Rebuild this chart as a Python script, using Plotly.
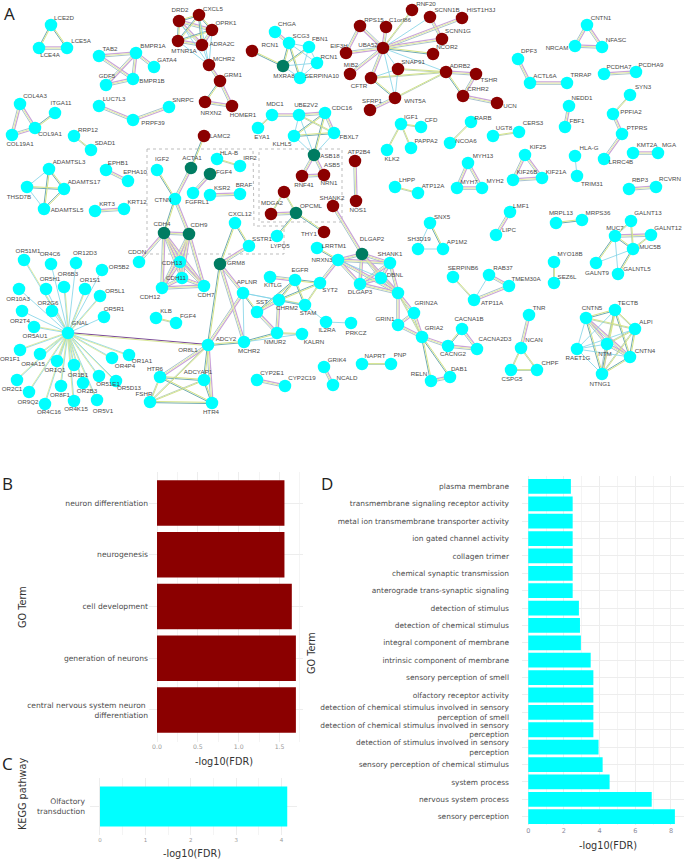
import plotly.graph_objects as go

W, H = 685, 859

# ---- Network nodes: (key, x, y, label x, label y); "|" separates a repeated name's key suffix
red_nodes = [
    ("DRD2",179,21,180,10),("CXCL5",199,15,213,9),("OPRK1",212,30,226,23),("MTNR1A",178,41,184,51),
    ("ADRA2C",202,45,222,44),("MCHR2",209,65,224,59),("GRM1",220,81,233,75),("NRXN2",205,102,211,113),
    ("HOMER1",232,106,243,115),("RCN1|r",252,51,270,45),("EIF3H",346,53,339,46),("RPS15",360,26,374,20),
    ("C1orf86",386,27,400,20),("UBA52",383,48,368,45),("RNF20",412,10,426,4),("SCNN1B",430,17,447,10),
    ("HIST1H3J",462,18,481,10),("SCNN1G",442,39,458,31),("NCOR2",433,54,447,47),("MIB2",350,74,351,65),
    ("SNAP91",398,69,413,62),("ADRB2",446,72,460,66),("TSHR",476,74,489,80),("CFTR",371,78,359,86),
    ("CRHR2",463,96,478,89),("UCN",497,103,510,106),("WNT5A",395,98,415,101),("SFRP1",370,110,372,101),
    ("LAMC2",204,136,220,136),("RNF41",302,176,304,185),("ASB5",324,175,332,165),("MDGA2",271,214,272,203),
    ("UNLABELLED",284,192,None,None),("SHANK2",333,206,332,198),("THY1",324,232,309,234),
    ("ATP2B4",355,161,359,152),("NOS1",356,201,358,210),
]
green_nodes = [
    ("MXRA8",283,66,284,76),("ACTA1",191,168,192,158),("FGF4|g",210,174,224,172),("CDH4",164,233,162,224),
    ("CDH9",189,234,199,225),("GRM8",220,264,236,263),("ASB18",314,155,330,156),("OPCML",296,213,311,206),
    ("DLGAP2",362,254,372,239),
]
cyan_top_nodes = [
    ("LCE2D",51,25,64,18),("LCE4A",39,48,50,55),("LCE5A",67,48,81,41),("TAB2",99,56,110,49),
    ("BMPR1A",136,53,153,46),("GATA4",154,67,167,60),("GDF5",106,85,107,76),("BMPR1B",133,79,152,81),
    ("CHGA",275,32,287,24),("SCG3",289,43,301,36),("FBN1",309,47,320,39),("RCN1|c",317,63,329,57),
    ("SERPINA10",300,78,322,76),("COL4A3",20,104,35,96),("ITGA11",55,113,61,103),("COL9A1",35,128,50,134),
    ("COL19A1",12,135,20,144),("LUC7L3",99,106,114,99),("SNRPC",169,107,183,100),("PRPF39",133,120,153,123),
    ("RRP12",74,136,88,130),("SDAD1",91,150,105,143),("ADAMTSL3",49,169,69,162),("THSD7B",27,187,19,197),
    ("ADAMTS17",64,189,84,182),("ADAMTSL5",44,209,67,210),("EPHB1",106,170,118,163),("EPHA10",128,181,135,172),
    ("KRT3",95,211,107,204),("KRT12",124,209,137,202),("IGF2",157,170,162,159),("HLA-B",217,159,229,153),
    ("IRF2",240,166,250,158),("FGFRL1",193,193,197,202),("KSR2",210,195,222,188),("BRAF",240,194,244,185),
    ("CTNN",175,199,163,200),("MDC1",272,115,275,104),("EYA1",258,128,262,137),("UBE2V2",299,115,306,105),
    ("CDC16",325,113,342,108),("KLHL5",294,136,282,144),("FBXL7",334,133,349,137),("LYPD5",277,236,280,246),
    ("CXCL12",235,223,240,214),("SSTR1",249,246,262,239),("CDH13",180,262,172,263),("CDH11",182,278,176,278),
    ("CDH12",162,288,150,297),("CDH7",204,286,206,295),("CDON",139,262,137,252),
]
cyan_or_nodes = [
    ("OR51M1",24,260,28,251),("OR4C6",51,264,50,254),("OR12D3",76,263,85,253),("OR6B3",64,287,68,274),
    ("OR5H1",46,289,50,279),("OR5B2",102,270,119,267),("OR1S1",85,289,90,280),("OR10A3",19,289,18,299),
    ("OR2G6",52,311,48,303),("OR5L1",100,296,115,291),("OR5R1",104,317,114,309),("OR2T4",22,311,20,321),
    ("OR5AU1",34,327,35,336),("GNAL",68,333,80,323),("OR1F1",20,350,10,359),("OR4A15",40,354,33,364),
    ("OR1Q1",57,361,55,370),("OR1B1",74,365,78,375),("OR4P4",112,358,125,366),("OR1A1",129,355,142,361),
    ("OR2C1",17,380,12,389),("OR9Q2",29,392,28,402),("OR8F1",61,386,60,395),("OR2B3",83,383,87,391),
    ("OR51E1",99,376,108,384),("OR5D13",116,381,129,388),("OR4C16",45,404,49,412),("OR4K15",74,401,76,409),
    ("OR5V1",97,400,103,411),
]
cyan_mid_nodes = [
    ("ADCY2",208,345,226,339),("HTR6",160,377,155,369),("ADCYAP1",204,380,198,372),("FSHR",150,402,144,394),
    ("HTR4",212,403,211,412),("KLB",156,318,166,311),("FGF4|c",176,323,188,316),("APLNR",243,293,247,282),
    ("SST",257,312,262,302),("CHRM2",279,300,287,308),("KITLG",270,277,273,285),("EGFR",295,280,300,270),
    ("SYT2",320,283,330,290),("STAM",305,305,308,313),("NMUR2",277,333,275,342),("MCHR2|c",244,342,249,351),
    ("KALRN",302,334,314,342),("IL2RA",326,322,327,330),("PRKCZ",351,323,356,333),("LRRTM1",317,248,334,246),
    ("NRXN3",338,260,322,260),("SHANK1",390,263,390,254),("DBNL",381,278,395,275),("DLGAP3",360,284,360,292),
    ("GRINX",398,293,None,None),("GRIN2A",414,313,426,303),("GRIN1",398,325,385,319),("GRIA2",422,337,434,328),
    ("CACNG2",448,346,453,354),("CACNA1B",462,329,469,319),("CACNA2D3",477,349,495,339),("RELN",431,381,419,374),
    ("DAB1",450,377,459,369),("GRIK4",324,367,337,360),("NCALD",333,385,347,378),("NAPRT",362,364,375,356),
    ("PNP",391,364,400,355),("CYP2E1",257,380,272,373),("CYP2C19",285,386,302,378),
]
cyan_right_nodes = [
    ("SNX5",430,223,442,217),("SH3D19",418,249,419,239),("AP1M2",443,249,457,242),("SERPINB6",453,277,463,268),
    ("RAB37",489,275,503,268),("TMEM30A",509,286,526,279),("ATP11A",474,300,492,303),("TNR",529,315,539,308),
    ("NCAN",521,348,534,340),("CSPG5",511,370,512,379),("CHPF",537,370,550,363),("MYO18B",554,262,570,254),
    ("SEZ6L",554,283,567,277),("MUC7",615,236,615,228),("GALNT13",631,221,648,213),("GALNT12",651,235,668,228),
    ("MUC5B",633,249,650,247),("GALNT9",596,263,597,273),("GALNTL5",618,274,637,269),("CNTN5",586,318,592,308),
    ("TECTB",615,310,628,303),("ALPI",635,329,646,322),("RAET1G",577,349,578,358),("NTM",607,344,605,354),
    ("CNTN4",630,357,645,351),("NTNG1",602,374,600,384),("LMF1",510,212,521,206),("LIPC",496,235,509,230),
    ("MRPL13",556,223,561,213),("MRPS36",582,220,598,213),("IGF1",401,124,411,117),("CFD",421,127,431,120),
    ("KLK2",387,150,392,159),("PAPPA2",411,148,426,141),("RARB",471,122,483,118),("NCOA6",450,143,466,141),
    ("UGT8",493,136,504,128),("CERS3",519,132,533,123),("DPF3",518,59,529,51),("ACTL6A",530,83,545,76),
    ("TRRAP",567,83,581,75),("CNTN1",587,25,601,18),("NRCAM",575,46,557,48),("NFASC",602,47,616,40),
    ("PCDHA7",604,74,619,67),("PCDHA9",636,72,651,65),("SYN3",630,95,643,87),("PPFIA2",613,114,631,112),
    ("PTPRS",622,134,637,128),("LRRC4B",604,159,621,162),("NEDD1",569,106,582,98),("FBF1",565,127,577,121),
    ("HLA-G",575,156,589,148),("TRIM31",577,176,592,184),("KMT2A",633,153,647,145),("MGA",658,153,669,145),
    ("RBP3",629,189,640,180),("RCVRN",656,187,670,179),("MYH13",468,163,483,156),("MYH7",457,188,469,182),
    ("MYH2",482,188,495,181),("LHPP",395,187,407,180),("ATP12A",418,193,433,186),("KIF25",525,155,538,147),
    ("KIF26B",513,180,527,172),("KIF21A",542,178,556,172),
]
# Labels that sit on another node's position in the reference
extra_labels = [("NRN1",329,183),("OR8L1",188,350)]

# ---- Network edges by evidence appearance
or_genes = [n[0] for n in cyan_or_nodes if n[0] != "GNAL"]
dark_edges = [("GNAL","ADCY2")]
strong_edges = """LCE4A-LCE5A TAB2-BMPR1A TAB2-BMPR1B BMPR1A-BMPR1B BMPR1A-GDF5 GDF5-BMPR1B BMPR1A-GATA4
MCHR2-GRM1 GRM1-HOMER1 NRXN2-HOMER1 CHGA-SCG3 COL4A3-COL19A1 COL4A3-COL9A1 COL9A1-COL19A1
LUC7L3-PRPF39 SNRPC-PRPF39 EPHB1-EPHA10 KRT3-KRT12 ACTA1-CTNN CTNN-CDH9 KSR2-BRAF
CDH4-CDH9 CDH4-CDH13 CDH4-CDH11 CDH4-CDH12 CDH4-CDH7 CDH9-CDH13 CDH9-CDH11 CDH9-CDH12 CDH9-CDH7
CDH13-CDH11 CDH13-CDH12 CDH13-CDH7 CDH11-CDH12 CDH11-CDH7 CDH12-CDH7 CDON-CDH4
GRM8-SSTR1 GRM8-APLNR GRM8-MCHR2|c MDC1-UBE2V2 UBE2V2-CDC16 CDC16-FBXL7 ASB18-RNF41 ASB18-ASB5 RNF41-ASB5
MDGA2-OPCML SHANK2-DLGAP2 ATP2B4-NOS1 UBA52-RPS15 UBA52-HIST1H3J UBA52-EIF3H UBA52-MIB2 UBA52-CFTR
UBA52-SCNN1G UBA52-C1orf86 RPS15-EIF3H SCNN1B-SCNN1G WNT5A-SFRP1 ADRB2-TSHR TSHR-CRHR2 CRHR2-UCN
DPF3-ACTL6A ACTL6A-TRRAP CNTN1-NRCAM CNTN1-NFASC NRCAM-NFASC PCDHA7-PCDHA9 PPFIA2-PTPRS PTPRS-LRRC4B
KMT2A-MGA RBP3-RCVRN MYH13-MYH7 MYH13-MYH2 MYH7-MYH2 KIF25-KIF26B KIF25-KIF21A KIF26B-KIF21A LMF1-LIPC
RAB37-TMEM30A TMEM30A-ATP11A TNR-NCAN MUC7-GALNT12 CNTN5-NTM CNTN5-CNTN4 NTM-CNTN4 NTM-NTNG1
NRXN3-DLGAP2 NRXN3-SHANK1 NRXN3-DLGAP3 NRXN3-GRINX NRXN3-SYT2 DLGAP2-SHANK1 DLGAP2-DBNL DLGAP2-DLGAP3
DLGAP2-GRINX SHANK1-DBNL SHANK1-DLGAP3 SHANK1-GRINX DBNL-DLGAP3 DBNL-GRINX DLGAP3-GRINX GRINX-GRIN2A
GRINX-GRIN1 GRIN2A-GRIN1 GRIN2A-GRIA2 GRIN1-GRIA2 GRIA2-CACNG2 CACNA1B-CACNA2D3 CACNG2-CACNA2D3 RELN-DAB1
EGFR-KITLG CHRM2-SST CHRM2-NMUR2 SST-NMUR2 APLNR-ADCY2 GRIK4-NCALD CYP2E1-CYP2C19 ADCY2-HTR6 ADCY2-HTR4
DRD2-OPRK1 DRD2-ADRA2C MTNR1A-ADRA2C OPRK1-ADRA2C NEDD1-FBF1 FGF4|g-FGFRL1""".split()
medium_edges = """LCE2D-LCE4A LCE2D-LCE5A GRM1-NRXN2 RCN1|r-MXRA8 SCG3-MXRA8 SCG3-SERPINA10 FBN1-MXRA8 ITGA11-COL9A1
ADAMTS17-ADAMTSL5 ADAMTSL3-ADAMTSL5 ADAMTSL3-ADAMTS17 THSD7B-ADAMTS17 LAMC2-ACTA1 IGF2-CTNN CTNN-CDH4
CXCL12-GRM8 CXCL12-SSTR1 GRM8-ADCY2 CDC16-KLHL5 CDC16-ASB18 KLHL5-FBXL7 OPCML-LYPD5 OPCML-THY1 UBA52-NCOR2
CFTR-WNT5A ADRB2-CRHR2 SNX5-AP1M2 MUC7-MUC5B MUC7-GALNT9 MUC5B-GALNTL5 MRPL13-MRPS36 CNTN5-TECTB
CNTN5-NTNG1 TECTB-CNTN4 TECTB-NTNG1 ALPI-CNTN4 CNTN4-NTNG1 LRRTM1-NRXN3 GRIA2-RELN GRIA2-DAB1 CACNG2-CACNA1B
SYT2-EGFR SYT2-CHRM2 EGFR-CHRM2 EGFR-STAM EGFR-SST CHRM2-STAM APLNR-SST NMUR2-MCHR2|c ADCY2-MCHR2|c
ADCY2-ADCYAP1 HTR6-ADCYAP1 HTR6-HTR4 ADCYAP1-HTR4 FSHR-HTR4 DRD2-MTNR1A CXCL5-OPRK1 DRD2-CXCL5 OPRK1-MTNR1A
CXCL5-ADRA2C CXCL5-MTNR1A""".split()
yellow_edges = """RRP12-SDAD1 HLA-B-IRF2 MDC1-EYA1 UBE2V2-FBXL7 MDGA2-UNLABELLED UNLABELLED-OPCML UBA52-RNF20 CFTR-ADRB2
SNAP91-ADRB2 WNT5A-ADRB2 IGF1-CFD IGF1-KLK2 IGF1-PAPPA2 RARB-NCOA6 UGT8-CERS3 SYN3-PPFIA2 LHPP-ATP12A
SERPINB6-ATP11A MYO18B-SEZ6L NCAN-CSPG5 NCAN-CHPF CSPG5-CHPF MUC7-GALNT13 GALNT13-MUC5B GALNT12-MUC5B
CNTN5-ALPI TECTB-ALPI TECTB-NTM ALPI-NTM ALPI-NTNG1 GRINX-GRIA2 SYT2-STAM NMUR2-KALRN NAPRT-PNP KLB-FGF4|c
ADCY2-FSHR HTR6-FSHR ADCYAP1-FSHR""".split()
blue_edges = """MCHR2-DRD2 MCHR2-CXCL5 MCHR2-OPRK1 MCHR2-MTNR1A MCHR2-ADRA2C SCG3-FBN1 SCG3-RCN1|c FBN1-RCN1|c FBN1-SERPINA10
RCN1|c-MXRA8 RCN1|c-SERPINA10 MXRA8-SERPINA10 ADAMTSL3-THSD7B THSD7B-ADAMTSL5 UBE2V2-KLHL5 UBE2V2-ASB18
KLHL5-ASB18 FBXL7-ASB18 UBA52-SCNN1B UBA52-SNAP91 UBA52-WNT5A UBA52-ADRB2 CFTR-SNAP91 SNAP91-WNT5A
HLA-G-TRIM31 SNX5-SH3D19 SH3D19-AP1M2 RAB37-ATP11A MUC7-GALNTL5 MUC5B-GALNT9 CNTN5-RAET1G TECTB-RAET1G
ALPI-RAET1G RAET1G-NTM RAET1G-CNTN4 RAET1G-NTNG1 NRXN3-DBNL CHRM2-APLNR APLNR-STAM APLNR-MCHR2|c
KALRN-MCHR2|c STAM-IL2RA IL2RA-PRKCZ""".split()

# ---- Panel B
go_b_terms = ["central nervous system neuron <br>differentiation","generation of neurons","cell development","neurogenesis","neuron differentiation"]
go_b_fdr = [1.70,1.70,1.65,1.56,1.56]
# ---- Panel C
kegg_terms = ["Olfactory<br>transduction"]
kegg_fdr = [4.125]
# ---- Panel D
go_d_terms = ["sensory perception","nervous system process","system process","sensory perception of chemical stimulus",
    "detection of stimulus involved in sensory<br>perception","detection of chemical stimulus involved in sensory<br>perception",
    "detection of chemical stimulus involved in sensory<br>perception of smell","olfactory receptor activity",
    "sensory perception of smell","intrinsic component of membrane","integral component of membrane",
    "detection of chemical stimulus","detection of stimulus","anterograde trans-synaptic signaling",
    "chemical synaptic transmission","collagen trimer","ion gated channel activity",
    "metal ion transmembrane transporter activity","transmembrane signaling receptor activity","plasma membrane"]
go_d_fdr = [8.22,6.92,4.56,4.17,3.94,3.65,3.65,3.65,3.65,3.50,2.95,2.90,2.84,2.49,2.49,2.49,2.49,2.49,2.49,2.39]

CYAN, RED, GREEN = "#00FFFF", "#8B0000", "#007C62"
SANS, LAB = "DejaVu Sans", "Liberation Sans"

all_nodes = red_nodes + green_nodes + cyan_top_nodes + cyan_or_nodes + cyan_mid_nodes + cyan_right_nodes
pos = {n[0]: (n[1], n[2]) for n in all_nodes}

def split(e):
    for i, c in enumerate(e):
        if c == "-" and e[:i] in pos and e[i+1:] in pos:
            return e[:i], e[i+1:]
    raise ValueError(e)

def segments(edges, off):
    xs, ys = [], []
    for a, b in edges:
        (x0, y0), (x1, y1) = pos[a], pos[b]
        d = max(((x1-x0)**2 + (y1-y0)**2)**0.5, 1)
        nx, ny = -(y1-y0)/d*off, (x1-x0)/d*off
        xs += [x0+nx, x1+nx, None]
        ys += [y0+ny, y1+ny, None]
    return xs, ys

S = [split(e) for e in strong_edges]
M = [split(e) for e in medium_edges]
Y = [split(e) for e in yellow_edges]
B = [split(e) for e in blue_edges] + [("GNAL", g) for g in or_genes]
Y2 = [("GNAL", g) for g in or_genes if pos[g][1] > 333 or or_genes.index(g) % 3 == 0]

edge_styles = [
    (S, "#A9C3CF", 1.0, 1.3), (S, "#C9A3DA", 1.2, -1.1), (S, "#E3EDA5", 1.0, 0.1),
    (M, "#6FAAB2", 1.0, 0.6), (M, "#D6E487", 1.0, -0.6),
    (Y, "#A9C6A8", 0.8, 0.5), (Y, "#D4E38A", 1.0, -0.4),
    (B, "#7FD2E6", 0.8, 0.0), (Y2, "#D6E48E", 0.8, 0.8),
    (dark_edges, "#7A4A96", 1.2, -0.5), (dark_edges, "#D4E38A", 0.9, 0.7),
]

fig = go.Figure()
for edges, color, w, off in edge_styles:
    ex, ey = segments(edges, off)
    fig.add_trace(go.Scatter(x=ex, y=ey, mode="lines", line=dict(color=color, width=w),
                             hoverinfo="skip", showlegend=False, xaxis="x4", yaxis="y4", cliponaxis=False))

for group, color in [(red_nodes, RED), (green_nodes, GREEN),
                     (cyan_top_nodes + cyan_or_nodes + cyan_mid_nodes + cyan_right_nodes, CYAN)]:
    fig.add_trace(go.Scatter(x=[n[1] for n in group], y=[n[2] for n in group], mode="markers",
                             marker=dict(color=color, size=12.5, line=dict(width=0)),
                             text=[n[0].split("|")[0] for n in group], hoverinfo="text",
                             showlegend=False, xaxis="x4", yaxis="y4", cliponaxis=False))

labelled = [n for n in all_nodes if n[3] is not None]
fig.add_trace(go.Scatter(x=[n[3] for n in labelled] + [e[1] for e in extra_labels],
                         y=[n[4] for n in labelled] + [e[2] for e in extra_labels],
                         text=[n[0].split("|")[0] for n in labelled] + [e[0] for e in extra_labels],
                         mode="text", textposition="middle center",
                         textfont=dict(family=LAB, size=6.2, color="#4A4A4A"),
                         hoverinfo="skip", showlegend=False, xaxis="x4", yaxis="y4", cliponaxis=False))

# Bars
fig.add_trace(go.Bar(x=go_b_fdr, y=list(range(1, 6)), orientation="h", width=0.88, marker_color=RED,
                     marker_line=dict(width=0), showlegend=False, xaxis="x", yaxis="y"))
fig.add_trace(go.Bar(x=kegg_fdr, y=[1], orientation="h", width=0.84, marker_color=CYAN,
                     marker_line=dict(width=0), showlegend=False, xaxis="x2", yaxis="y2"))
fig.add_trace(go.Bar(x=go_d_fdr, y=list(range(1, 21)), orientation="h", width=0.85, marker_color=CYAN,
                     marker_line=dict(width=0), showlegend=False, xaxis="x3", yaxis="y3"))

def dx(a, b): return [a / W, b / W]
def dy(a, b): return [1 - b / H, 1 - a / H]
GRID = "#EDEDED"

def val_axis(domain, anchor, rng, dtick, mdtick, fmt=None, size=6.2, tcolor="#9A9A9A"):
    return dict(domain=domain, anchor=anchor, range=rng, dtick=dtick, tick0=0, showgrid=True, gridcolor=GRID, gridwidth=1,
                minor=dict(dtick=mdtick, tick0=0, showgrid=True, gridcolor="#F4F4F4", gridwidth=0.7),
                zeroline=False, showline=False, ticks="", tickformat=fmt,
                tickfont=dict(family=SANS, size=size, color=tcolor), automargin=False)

def cat_axis(domain, anchor, rng, vals, text, size, standoff):
    return dict(domain=domain, anchor=anchor, range=rng, tickmode="array", tickvals=vals, ticktext=text,
                showgrid=True, gridcolor=GRID, gridwidth=1, zeroline=False, showline=False, ticks="",
                ticklabelstandoff=standoff,
                tickfont=dict(family=SANS, size=size, color="#4D4D4D"), automargin=False)

def text_note(s, x, y, size, rot=0, color="#333333", family=SANS):
    return dict(text=s, x=x / W, y=1 - y / H, xref="paper", yref="paper", showarrow=False,
                xanchor="center", yanchor="middle", textangle=rot,
                font=dict(family=family, size=size, color=color))

poly1 = [(147,149),(253,149),(254,226),(284,226),(284,254),(147,254)]
poly2 = [(259,149),(342,149),(342,222),(259,222)]
shapes = []
for poly in (poly1, poly2):
    path = "M " + " L ".join(f"{x} {y}" for x, y in poly) + " Z"
    shapes.append(dict(type="path", path=path, xref="x4", yref="y4", layer="below",
                       line=dict(color="#A0A0A0", width=0.7, dash="dot")))

LETTER = "Open Sans"
fig.update_layout(
    width=W, height=H, margin=dict(l=0, r=0, t=0, b=0), paper_bgcolor="white", plot_bgcolor="rgba(0,0,0,0)",
    bargap=0.1, shapes=shapes,
    xaxis=val_axis(dx(149, 303), "y", [-0.098, 1.787], 0.5, 0.25, ".1f"),
    yaxis=cat_axis(dy(472, 742), "x", [0.38, 5.6], list(range(1, 6)), go_b_terms, 7.6, 0),
    xaxis2=val_axis(dx(90, 297), "y2", [-0.22, 4.34], 1, 0.5, size=5.5),
    yaxis2=cat_axis(dy(778, 835), "x2", [0.4, 1.6], [1], kegg_terms, 7.6, 4),
    xaxis3=val_axis(dx(522, 684), "y3", [-0.35, 8.73], 2, 1, size=6.5, tcolor="#8C8C9C"),
    yaxis3=cat_axis(dy(476, 825), "x3", [0.52, 20.6], list(range(1, 21)), go_d_terms, 7.45, 12),
    xaxis4=dict(domain=[0, 1], anchor="y4", range=[0, W], visible=False, fixedrange=True),
    yaxis4=dict(domain=[0, 1], anchor="x4", range=[H, 0], visible=False, fixedrange=True),
    annotations=[
        text_note("A", 9, 13, 17, color="#222222", family=LETTER), text_note("B", 8, 483, 17, color="#222222", family=LETTER),
        text_note("C", 8, 763, 17, color="#222222", family=LETTER), text_note("D", 327, 483, 17, color="#222222", family=LETTER),
        text_note("-log10(FDR)", 224, 761, 9.7), text_note("GO Term", 22, 607, 9.7, -90),
        text_note("-log10(FDR)", 192, 853, 9.7), text_note("KEGG pathway", 22, 794, 9.7, -90),
        text_note("-log10(FDR)", 608, 845, 9.7), text_note("GO Term", 311, 653, 9.7, -90),
    ],
)

fig.write_html("out.html", config=dict(displayModeBar=False),
               post_script="document.body.style.margin='0';document.body.style.overflow='hidden';")
